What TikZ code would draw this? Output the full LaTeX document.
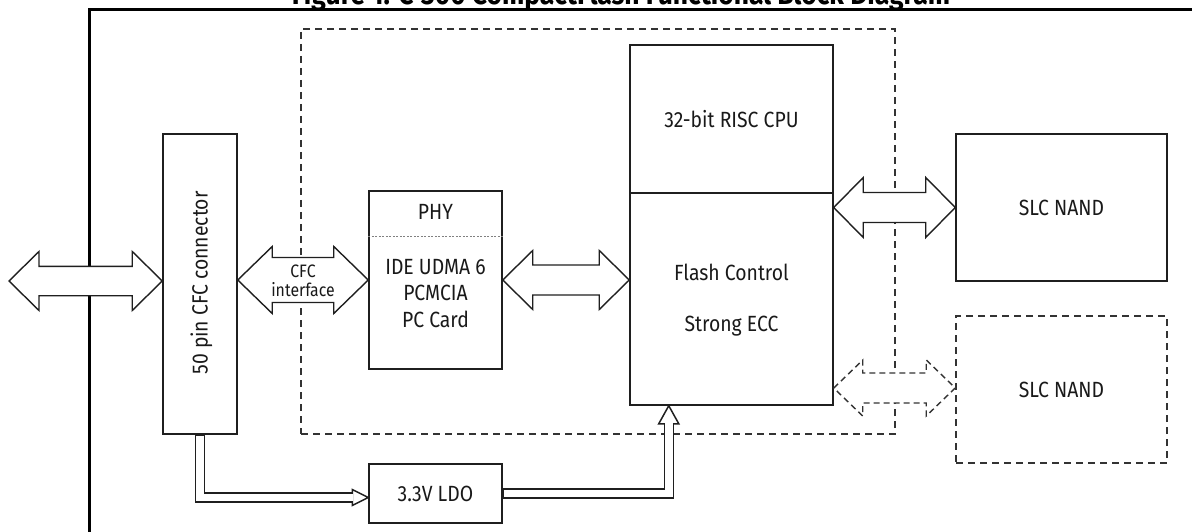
\documentclass[tikz,border=0pt]{standalone}
\usepackage{fontspec}
\setmainfont[FakeStretch=0.88]{Fira Sans}
\usetikzlibrary{calc}
\newcommand\fatarrow[6][]{%
  \filldraw[fat,#1] (#2) -- ($(#2)+(#6,-#5)$) -- ($(#2)+(#6,-#4)$) -- ($(#3)+(-#6,-#4)$) -- ($(#3)+(-#6,-#5)$) -- (#3)
    -- ($(#3)+(-#6,#5)$) -- ($(#3)+(-#6,#4)$) -- ($(#2)+(#6,#4)$) -- ($(#2)+(#6,#5)$) -- cycle;}
\begin{document}
\begin{tikzpicture}[x=1pt,y=-1pt,
  box/.style={draw=black!88,line width=1.5pt,minimum width=#1,inner sep=0pt},
  txt/.style={font=\fontsize{22}{26}\selectfont,text=black!90,inner sep=0pt},
  small/.style={font=\fontsize{18}{20}\selectfont,text=black!90,inner sep=0pt,align=center},
  fat/.style={draw=black!88,fill=white,line width=1.4pt,line join=miter},
  dbox/.style={draw=black!80,line width=1.5pt,dash pattern=on 7pt off 5pt},
  pwrout/.style={draw=black!88,line width=10.5pt},
  pwrin/.style={draw=white,line width=7.5pt},
  pwrhead/.style={draw=black!88,fill=white,line width=1.5pt,line join=miter}]
\useasboundingbox (0,0) rectangle (1192,532);
% outer frame
\coordinate (frbl) at (89,540);
\coordinate (frtl) at (89,9.5);
\coordinate (frtr) at (1200,9.5);
\draw[line width=3pt,black] (frbl) -- (frtl) -- (frtr);
\node[anchor=base,font=\fontsize{30}{32}\selectfont\bfseries] (title) at (621,4.5) {Figure 1: C-300 CompactFlash Functional Block Diagram};
% dashed controller box
\node[dbox,minimum width=594pt,minimum height=405pt,inner sep=0pt] (ctrl) at (598,231.5) {};
% boxes
\node[box=74pt,minimum height=300pt] (conn) at (200,284) {};
\node[txt,rotate=90] (conntxt) at (201.5,283) {50 pin CFC connector};
\node[box=133pt,minimum height=178pt] (phy) at (435.5,280) {};
\draw[gray,line width=0.8pt,dash pattern=on 2pt off 1.5pt] ($(phy.north west)+(0,46)$) -- ($(phy.north east)+(0,46)$);
\node[txt] (phytxt) at ($(phy.north)+(0,22)$) {PHY};
\node[txt] (ide) at ($(phy.north)+(0,77)$) {IDE UDMA 6};
\node[txt] (pcmcia) at ($(phy.north)+(0,103)$) {PCMCIA};
\node[txt] (pccard) at ($(phy.north)+(0,129)$) {PC Card};
\node[box=203pt,minimum height=148pt,txt,draw=black!88] (cpu) at (731.5,119) {32-bit RISC CPU};
\node[box=203pt,minimum height=212pt] (flash) at (731.5,299) {};
\node[txt] (fc) at ($(flash.north)+(0,80)$) {Flash Control};
\node[txt] (ecc) at ($(flash.north)+(0,134)$) {Strong ECC};
\node[box=211pt,minimum height=147pt,txt,draw=black!88] (nand1) at (1061.5,207.5) {SLC NAND};
\node[box=211pt,minimum height=147pt,txt,draw=black!80,dash pattern=on 7pt off 5pt] (nand2) at (1061.5,389.5) {\raisebox{-2pt}{SLC NAND}};
\node[box=133pt,minimum height=59pt,txt,draw=black!88] (ldo) at (435.5,493.5) {3.3V LDO};
% fat arrows
\coordinate (ext) at (9,281);
\coordinate (extb) at (conn.west |- ext);
\fatarrow{ext}{extb}{14.7}{29.5}{30}
\coordinate (cfca) at (conn.east |- phy.west);
\fatarrow{cfca}{phy.west}{22.5}{33.5}{34.5}
\node[small] (cfclbl) at ($(cfca)!0.5!(phy.west)+(0,1)$) {CFC\\[-1pt]interface};
\coordinate (pfb) at (flash.west |- phy.east);
\fatarrow{phy.east}{pfb}{15}{29.5}{30}
\coordinate (fna) at (nand1.west -| flash.east);
\fatarrow{fna}{nand1.west}{15}{30}{29.5}
\coordinate (fnb) at ($(nand2.west -| flash.east)+(0,-1.5)$);
\coordinate (fnc) at ($(nand2.west)+(0,-1.5)$);
\fatarrow[draw=black!80,dash pattern=on 6pt off 4pt]{fnb}{fnc}{15}{28}{29}
% power arrows
\coordinate (p1e) at ([yshift=-4pt]ldo.west);
\draw[pwrout,shorten >=16pt] (conn.south) |- (p1e);
\filldraw[pwrhead] (p1e) -- ++(-16,-8) -- ++(0,16) -- cycle;
\draw[pwrin,shorten >=15pt,shorten <=1pt] (conn.south) |- (p1e);
\coordinate (pin) at ($(flash.south west)+(39.5,0)$);
\draw[pwrout,shorten >=18pt] (ldo.east) -| (pin);
\filldraw[pwrhead] (pin) -- ++(-10,18) -- ++(20,0) -- cycle;
\draw[pwrin,shorten >=17pt,shorten <=1pt] (ldo.east) -| (pin);
\end{tikzpicture}
\end{document}
